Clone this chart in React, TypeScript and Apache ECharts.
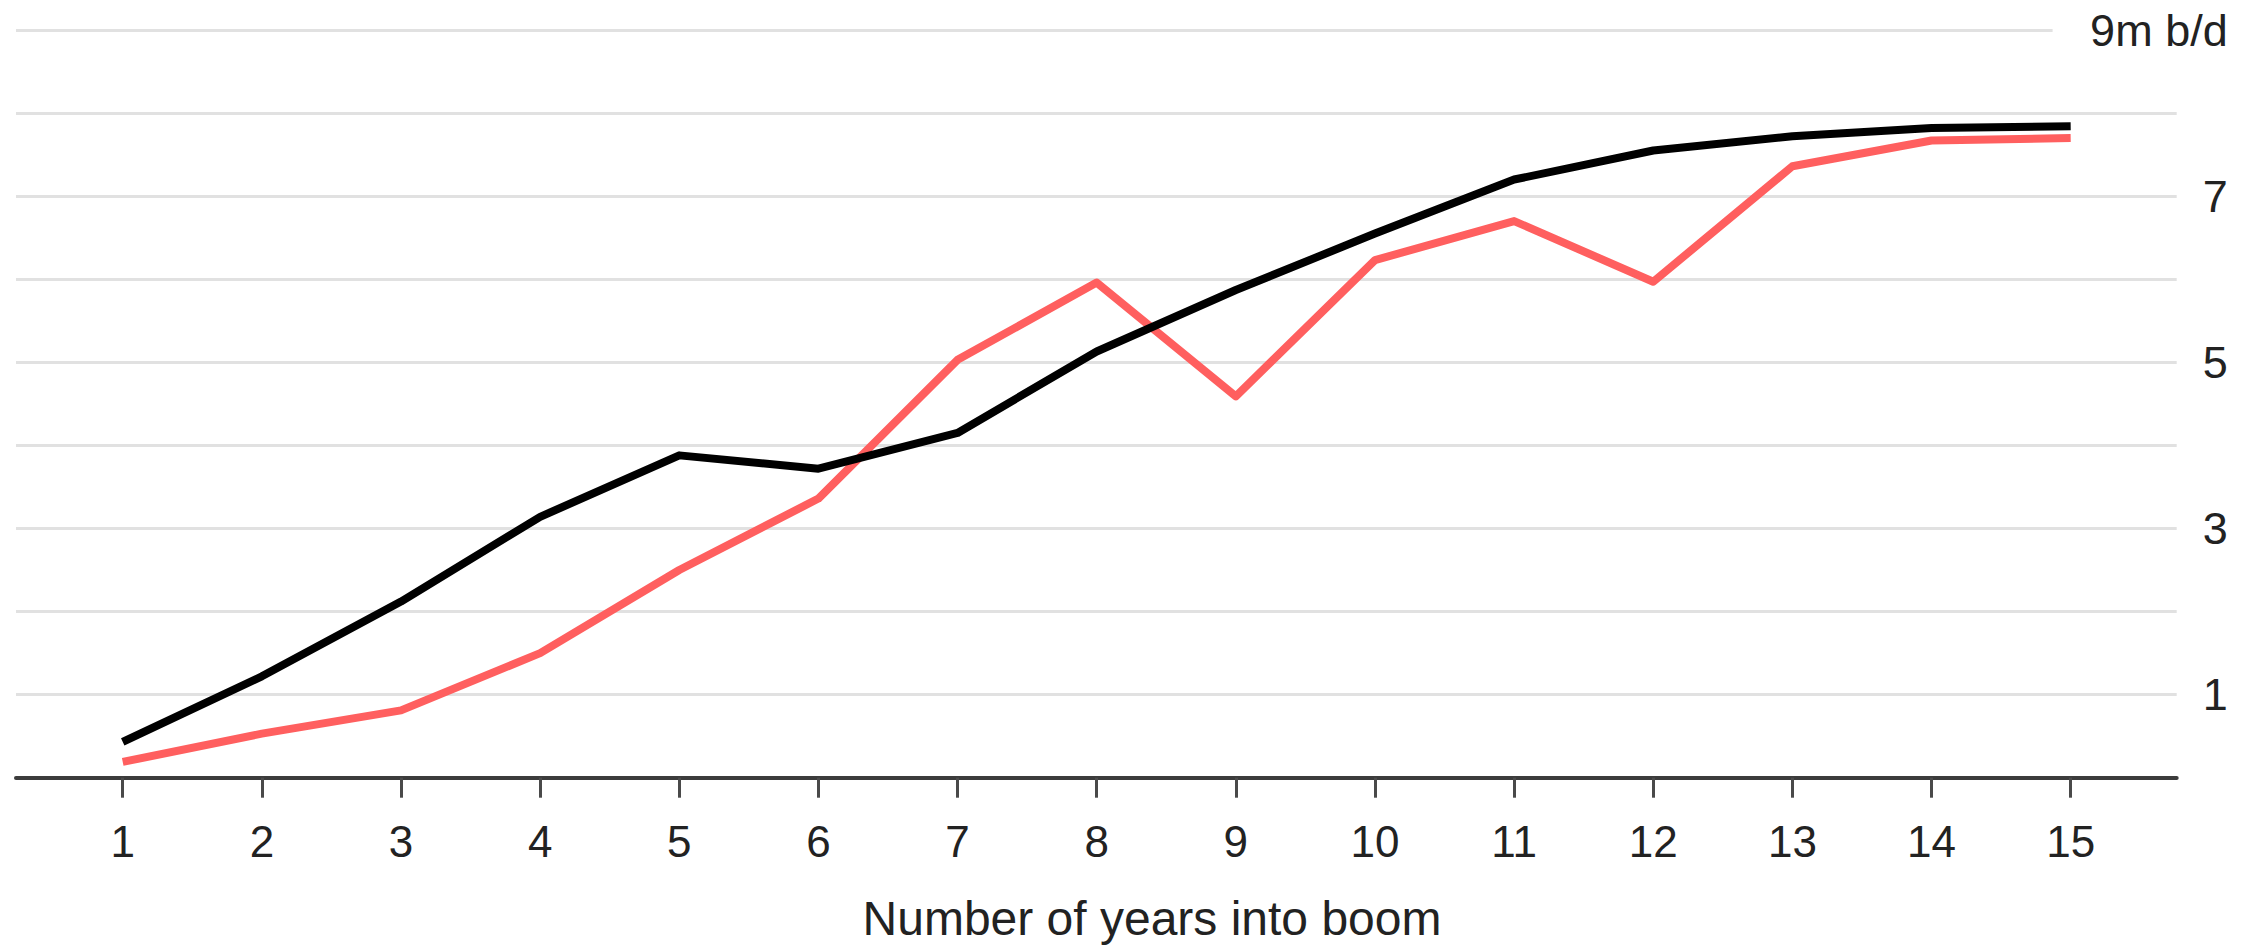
import React, { useEffect, useRef } from "react";
import * as echarts from "echarts";

// ---- data ----
const years = [1, 2, 3, 4, 5, 6, 7, 8, 9, 10, 11, 12, 13, 14, 15];
const blackSeries = [0.43, 1.22, 2.12, 3.14, 3.88, 3.72, 4.15, 5.13, 5.87, 6.55, 7.2, 7.55, 7.72, 7.82, 7.84];
const redSeries = [0.19, 0.53, 0.81, 1.5, 2.5, 3.36, 5.03, 5.96, 4.59, 6.23, 6.7, 5.97, 7.36, 7.67, 7.7];
const yTicks = [0, 1, 2, 3, 4, 5, 6, 7, 8, 9];
const yLabelFor = (v: number) => (v === 9 ? "9m b/d" : v % 2 === 1 ? String(v) : "");
const xTitle = "Number of years into boom";

// axis extent (layout)
const X_MIN = 0.233;
const X_MAX = 15.762;
const TOP_GRID_END = 14.87;

const FONT = "'Liberation Sans', Arial, Helvetica, sans-serif";
const GRID_COLOR = "#e1e1e1";
const TEXT_COLOR = "#222";

export default function App() {
  const ref = useRef<HTMLDivElement>(null);
  useEffect(() => {
    document.body.style.margin = "0";
    const chart = echarts.init(ref.current!, null, { renderer: "svg" });
    chart.setOption({
      animation: false,
      backgroundColor: "#ffffff",
      grid: { left: 16, right: 84.3, top: 30, bottom: 167.3, containLabel: false },
      xAxis: {
        type: "value",
        min: X_MIN,
        max: X_MAX,
        axisLine: { show: true, lineStyle: { color: "#3c3c3c", width: 4 } },
        axisTick: {
          show: true,
          customValues: years,
          length: 20,
          lineStyle: { color: "#4a4a4a", width: 3 },
        },
        axisLabel: {
          customValues: years,
          margin: 42,
          fontSize: 44,
          fontFamily: FONT,
          color: TEXT_COLOR,
        },
        splitLine: { show: false },
      },
      yAxis: {
        type: "value",
        position: "right",
        min: yTicks[0],
        max: yTicks[yTicks.length - 1],
        interval: 1,
        axisLine: { show: false },
        axisTick: { show: false },
        axisLabel: {
          align: "right",
          margin: 51,
          fontSize: 45,
          fontFamily: FONT,
          color: TEXT_COLOR,
          formatter: (v: number) => yLabelFor(v),
        },
        splitLine: {
          show: true,
          showMinLine: false,
          showMaxLine: false,
          lineStyle: { color: GRID_COLOR, width: 3 },
        },
      },
      graphic: [
        {
          type: "text",
          x: 1152,
          y: 918,
          style: {
            text: xTitle,
            fontSize: 48,
            fontFamily: FONT,
            fill: TEXT_COLOR,
            textAlign: "center",
            textVerticalAlign: "middle",
          },
        },
      ],
      series: [
        {
          name: "Series B",
          type: "line",
          data: years.map((y, i) => [y, redSeries[i]]),
          showSymbol: false,
          smooth: false,
          lineStyle: { color: "#ff5f5f", width: 8, join: "round" },
          z: 3,
        },
        {
          name: "Series A",
          type: "line",
          data: years.map((y, i) => [y, blackSeries[i]]),
          showSymbol: false,
          smooth: false,
          lineStyle: { color: "#000000", width: 8, join: "round" },
          z: 4,
          markLine: {
            silent: true,
            symbol: "none",
            label: { show: false },
            lineStyle: { color: GRID_COLOR, width: 3, type: "solid" },
            data: [[{ coord: [X_MIN, 9] }, { coord: [TOP_GRID_END, 9] }]],
          },
        },
      ],
    });
    return () => chart.dispose();
  }, []);
  return <div ref={ref} style={{ width: 2261, height: 945 }} />;
}
